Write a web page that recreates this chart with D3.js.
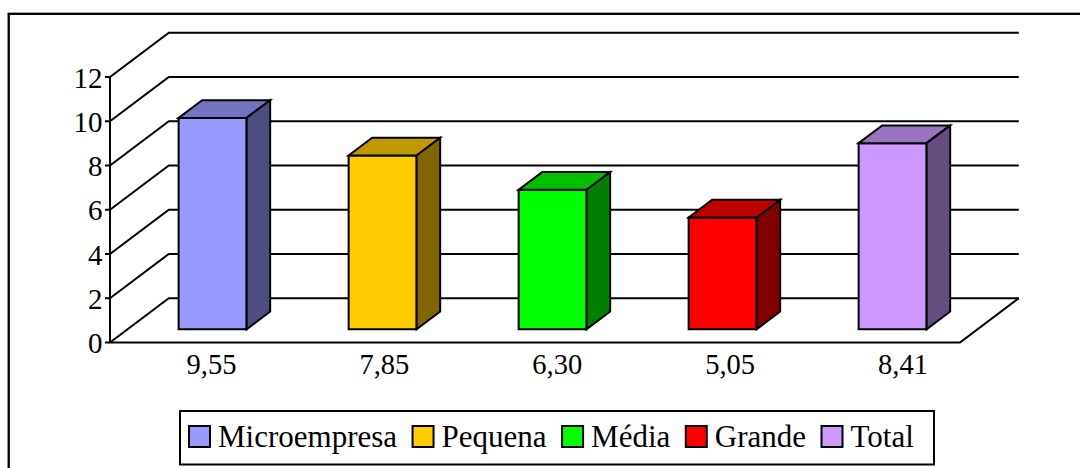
<!DOCTYPE html>
<html>
<head>
<meta charset="utf-8">
<script src="https://cdn.jsdelivr.net/npm/d3@7"></script>
<style>
  html, body { margin: 0; padding: 0; background: #fff; }
  svg { display: block; }
  text { font-family: "Liberation Serif", "Times New Roman", serif; fill: #000; }
</style>
</head>
<body>
<svg id="chart" width="1080" height="468"></svg>
<script>
// Data
const categories = ["Microempresa", "Pequena", "Média", "Grande", "Total"];
const values = [9.55, 7.85, 6.30, 5.05, 8.41];
const valueLabels = ["9,55", "7,85", "6,30", "5,05", "8,41"];
const yTicks = [0, 2, 4, 6, 8, 10, 12];
const frontColors = ["#9999FF", "#FFCC00", "#00FF00", "#FF0000", "#CC99FF"];

const svg = d3.select("#chart");

// Oblique 3D projection: front plane plus a depth vector
const plot = { left: 110, right: 960, bottom: 342.5, top: 77 };
const depth = { dx: 58.8, dy: -44.3 };
const barDepthStart = 0.3, barDepthEnd = 0.7;

const x = d3.scaleBand().domain(categories)
  .range([plot.left, plot.right]).paddingInner(0.6).paddingOuter(0.3);
const y = d3.scaleLinear().domain([0, 12]).range([plot.bottom, plot.top]);
const labelX = d3.scalePoint().domain(categories).range([211.5, 903]);
const color = d3.scaleOrdinal().domain(categories).range(frontColors);

const shade = (c, k) => { const r = d3.rgb(c); return d3.rgb(r.r * k, r.g * k, r.b * k).formatHex(); };

// Outer frame
svg.append("rect")
  .attr("x", 8.7).attr("y", 13.8).attr("width", 1100).attr("height", 500)
  .attr("fill", "none").attr("stroke", "#000").attr("stroke-width", 2.3);

// Walls: gridlines on the side wall and back wall
const grid = svg.append("g").attr("stroke", "#000").attr("stroke-width", 2).attr("fill", "none");
yTicks.forEach(t => {
  const yy = y(t);
  grid.append("path")
    .attr("d", d3.line()([
      [plot.left, yy],
      [plot.left + depth.dx, yy + depth.dy],
      [plot.right + depth.dx, yy + depth.dy]
    ]));
});

// Floor outline (front and right edges)
grid.append("path")
  .attr("d", d3.line()([
    [plot.left, y(0)],
    [plot.right, y(0)],
    [plot.right + depth.dx, y(0) + depth.dy]
  ]));

// Value axis
grid.append("line")
  .attr("x1", plot.left).attr("x2", plot.left)
  .attr("y1", y(0)).attr("y2", y(12));
const axis = svg.append("g");
yTicks.forEach(t => {
  axis.append("line")
    .attr("x1", plot.left - 5).attr("x2", plot.left)
    .attr("y1", y(t)).attr("y2", y(t))
    .attr("stroke", "#000").attr("stroke-width", 2);
  axis.append("text")
    .attr("x", plot.left - 7.5).attr("y", y(t) + 10.5)
    .attr("text-anchor", "end").attr("font-size", 29)
    .text(t);
});

// Bars: front, top and right faces
const ox = depth.dx * barDepthStart, oy = depth.dy * barDepthStart;
const bx = depth.dx * (barDepthEnd - barDepthStart), by = depth.dy * (barDepthEnd - barDepthStart);
const bars = svg.append("g").attr("stroke", "#000").attr("stroke-width", 2).attr("stroke-linejoin", "miter");
categories.forEach((c, i) => {
  const x0 = x(c) + ox, x1 = x0 + x.bandwidth();
  const yb = y(0) + oy, yt = y(values[i]) + oy;
  const col = color(c);
  const g = bars.append("g");
  g.append("path").attr("fill", col)
    .attr("d", d3.line()([[x0, yb], [x0, yt], [x1, yt], [x1, yb]]) + "Z");
  g.append("path").attr("fill", shade(col, 0.75))
    .attr("d", d3.line()([[x0, yt], [x0 + bx, yt + by], [x1 + bx, yt + by], [x1, yt]]) + "Z");
  g.append("path").attr("fill", shade(col, 0.5))
    .attr("d", d3.line()([[x1, yt], [x1 + bx, yt + by], [x1 + bx, yb + by], [x1, yb]]) + "Z");
});

// Category labels (values in Portuguese decimal format)
svg.append("g").selectAll("text").data(categories).join("text")
  .attr("x", d => labelX(d)).attr("y", 373.5)
  .attr("text-anchor", "middle").attr("font-size", 28.5)
  .text((d, i) => valueLabels[i]);

// Legend
const legend = svg.append("g");
legend.append("rect")
  .attr("x", 180).attr("y", 411).attr("width", 754).attr("height", 53.5)
  .attr("fill", "#fff").attr("stroke", "#000").attr("stroke-width", 2);
let lx = 189;
categories.forEach((c, i) => {
  legend.append("rect")
    .attr("x", lx).attr("y", 426).attr("width", 21).attr("height", 21)
    .attr("fill", color(c)).attr("stroke", "#000").attr("stroke-width", 2);
  const t = legend.append("text")
    .attr("x", lx + 29).attr("y", 446.5).attr("font-size", 31)
    .text(c);
  lx += 29 + t.node().getComputedTextLength() + 15.5;
});
</script>
</body>
</html>
